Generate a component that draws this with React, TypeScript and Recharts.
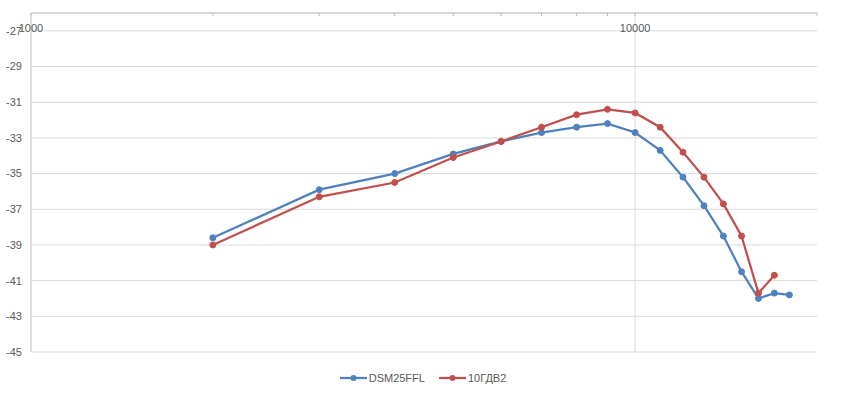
import { LineChart, Line, XAxis, YAxis, CartesianGrid, Legend, ReferenceLine } from 'recharts';

const freqs = [2000, 3000, 4000, 5000, 6000, 7000, 8000, 9000, 10000, 11000, 12000, 13000, 14000, 15000, 16000, 17000, 18000];
const dsmValues = [-38.6, -35.9, -35.0, -33.9, -33.2, -32.7, -32.4, -32.2, -32.7, -33.7, -35.2, -36.8, -38.5, -40.5, -42.0, -41.7, -41.8];
const gdvValues = [-39.0, -36.3, -35.5, -34.1, -33.2, -32.4, -31.7, -31.4, -31.6, -32.4, -33.8, -35.2, -36.7, -38.5, -41.7, -40.7];

const xTicks = [1000, 2000, 3000, 4000, 5000, 6000, 7000, 8000, 9000, 10000, 20000];
const xLabels = [1000, 10000];
const yTicks = [-45, -43, -41, -39, -37, -35, -33, -31, -29, -27];

const series = [
  { name: 'DSM25FFL', color: '#4f81bd', values: dsmValues },
  { name: '10ГДВ2', color: '#c0504d', values: gdvValues },
];

const FONT = '"Liberation Sans", Arial, sans-serif';
const TEXT = '#595959';

const LegendContent = () => (
  <div style={{ display: 'flex', justifyContent: 'center', gap: 14, fontFamily: FONT, fontSize: 11, color: TEXT }}>
    {series.map((s) => (
      <div key={s.name} style={{ display: 'flex', alignItems: 'center', gap: 2 }}>
        <svg width={27} height={10}>
          <line x1={0} y1={5} x2={27} y2={5} stroke={s.color} strokeWidth={2.25} />
          <circle cx={13.5} cy={5} r={3} fill={s.color} />
        </svg>
        <span>{s.name}</span>
      </div>
    ))}
  </div>
);

export default function App() {
  return (
    <div style={{ position: 'absolute', left: 0, top: 0, background: '#fff' }}>
      <LineChart width={846} height={397} margin={{ top: 13, right: 29, left: 0, bottom: 13 }}>
        <CartesianGrid vertical={false} stroke="#d9d9d9" />
        <XAxis
          dataKey="f"
          type="number"
          scale="log"
          domain={[1000, 20000]}
          allowDataOverflow
          orientation="top"
          mirror
          ticks={xTicks}
          interval={0}
          tickFormatter={(v: number) => (xLabels.includes(v) ? String(v) : '')}
          tickSize={3}
          tickMargin={8}
          tickLine={{ stroke: '#bfbfbf' }}
          axisLine={{ stroke: '#bfbfbf' }}
          tick={{ fill: TEXT, fontSize: 11, fontFamily: FONT }}
        />
        <YAxis
          type="number"
          domain={[-45, -26]}
          ticks={yTicks}
          interval={0}
          width={31}
          tickSize={0}
          tickMargin={9}
          axisLine={{ stroke: '#bfbfbf' }}
          tick={{ fill: TEXT, fontSize: 11, fontFamily: FONT }}
        />
        <ReferenceLine x={10000} stroke="#d9d9d9" />
        <Legend
          verticalAlign="bottom"
          wrapperStyle={{ paddingTop: 20, left: 0, width: 846 }}
          content={<LegendContent />}
        />
        {series.map((s) => (
          <Line
            key={s.name}
            name={s.name}
            data={s.values.map((v, i) => ({ f: freqs[i], v }))}
            dataKey="v"
            stroke={s.color}
            strokeWidth={2.25}
            dot={{ r: 3, fill: s.color, stroke: s.color, strokeWidth: 1 }}
            activeDot={false}
            isAnimationActive={false}
          />
        ))}
      </LineChart>
    </div>
  );
}
